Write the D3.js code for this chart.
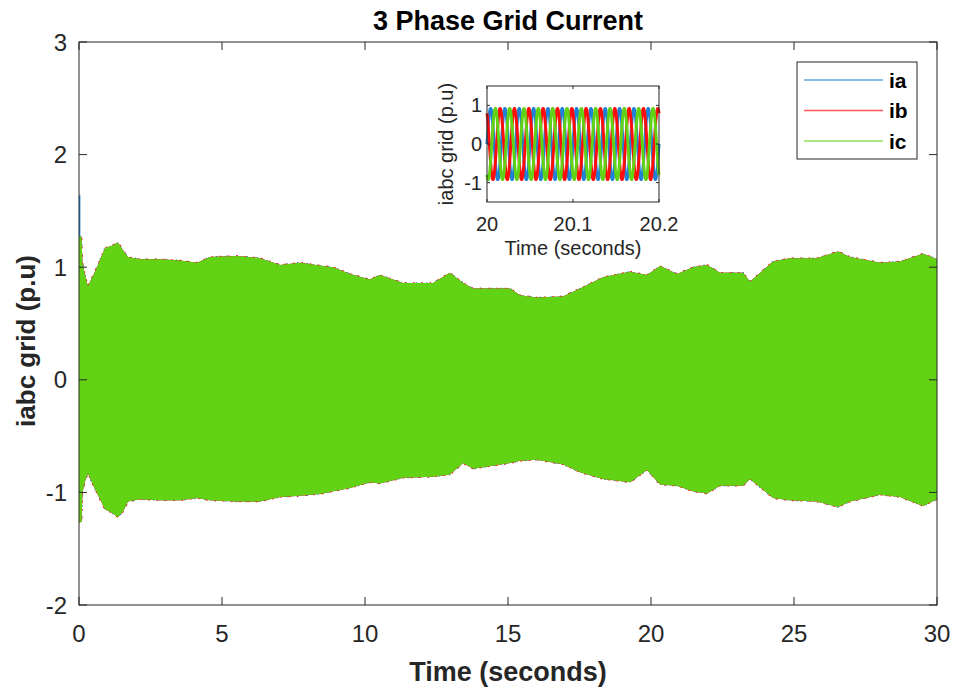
<!DOCTYPE html>
<html>
<head>
<meta charset="utf-8">
<script src="https://cdn.jsdelivr.net/npm/d3@7"></script>
<style>
  body { margin: 0; background: #fff; }
  text { font-family: "Liberation Sans", Arial, sans-serif; fill: #262626; }
</style>
</head>
<body>
<svg id="chart" width="961" height="695"></svg>
<script>
// Envelope of the three phase currents over the run (p.u.)
const timeS    = [0, 0.09, 0.12, 0.21, 0.31, 0.56, 0.91, 1.15, 1.36, 1.54, 1.71, 2.13, 2.83, 3.53, 4.13, 4.58, 5.52, 6.33, 7.03, 7.73, 8.53, 8.88, 9.48, 10.17, 10.52, 11.33, 12.38, 12.97, 13.43, 13.78, 15.07, 15.42, 16.01, 16.92, 17.52, 18.32, 19.27, 19.86, 20.32, 20.91, 21.47, 21.96, 22.41, 23.22, 23.46, 24.27, 24.86, 25.80, 26.54, 26.96, 28.01, 28.71, 29.51, 30];
const envUpper = [1.28, 1.27, 1.04, 0.93, 0.83, 0.96, 1.17, 1.19, 1.22, 1.15, 1.09, 1.07, 1.07, 1.06, 1.04, 1.09, 1.10, 1.08, 1.02, 1.04, 1.01, 1.00, 0.94, 0.89, 0.93, 0.86, 0.86, 0.95, 0.86, 0.81, 0.81, 0.75, 0.73, 0.74, 0.81, 0.91, 0.96, 0.93, 1.01, 0.94, 1.00, 1.02, 0.95, 0.95, 0.87, 1.05, 1.08, 1.08, 1.14, 1.09, 1.04, 1.05, 1.12, 1.07];
const envLower = [-1.27, -1.26, -1.00, -0.90, -0.83, -0.97, -1.15, -1.18, -1.22, -1.17, -1.08, -1.06, -1.07, -1.07, -1.05, -1.07, -1.08, -1.08, -1.04, -1.03, -1.01, -0.99, -0.96, -0.91, -0.92, -0.87, -0.86, -0.84, -0.74, -0.79, -0.74, -0.72, -0.71, -0.75, -0.82, -0.88, -0.91, -0.80, -0.93, -0.94, -0.99, -1.01, -0.94, -0.94, -0.88, -1.05, -1.07, -1.08, -1.13, -1.08, -1.02, -1.04, -1.12, -1.06];

// Start-up overshoot of phase a
const iaStartTime = 0.02;
const iaStartPeak = 1.64;

// Zoomed window: steady sinusoids
const insetAmplitude = 0.92;
const lineFrequencyHz = 60;
const phaseShiftDeg = [0, 120, -120];

const phaseNames  = ["ia", "ib", "ic"];
const phaseColors = ["#1f80d6", "#ff0d0d", "#61d314"];

const xTicks = [0, 5, 10, 15, 20, 25, 30];
const yTicks = [-2, -1, 0, 1, 2, 3];
const insetXTicks = [20, 20.1, 20.2];
const insetYTicks = [-1, 0, 1];

const titleText = "3 Phase Grid Current";
const xLabelText = "Time (seconds)";
const yLabelText = "iabc grid (p.u)";

const svg = d3.select("#chart");
const axisColor = "#262626";

// ---------- main axes ----------
const M = { left: 79, right: 937, top: 42, bottom: 605 };
const x = d3.scaleLinear().domain([0, 30]).range([M.left, M.right]);
const y = d3.scaleLinear().domain([-2, 3]).range([M.bottom, M.top]);

svg.append("defs").append("clipPath").attr("id", "mainClip")
  .append("rect").attr("x", M.left).attr("y", M.top)
  .attr("width", M.right - M.left).attr("height", M.bottom - M.top);

const env = timeS.map((t, i) => ({ t, hi: envUpper[i], lo: envLower[i] }));
const band = d3.area().x(d => x(d.t)).y0(d => y(d.lo)).y1(d => y(d.hi)).curve(d3.curveLinear);

const plot = svg.append("g").attr("clip-path", "url(#mainClip)");
// phases a and b peek out from under phase c as speckles along the edge
const speckle = [["1.3,9", 0], ["1.8,6.5", 4], [null, 0]];
phaseNames.forEach((name, i) => {
  const p = plot.append("path").datum(env).attr("d", band).attr("fill", phaseColors[i]);
  if (speckle[i][0]) {
    p.attr("stroke", phaseColors[i]).attr("stroke-width", 1.6)
     .attr("stroke-dasharray", speckle[i][0]).attr("stroke-dashoffset", speckle[i][1]);
  }
});
plot.append("line")
  .attr("x1", x(iaStartTime)).attr("x2", x(iaStartTime))
  .attr("y1", y(envUpper[0])).attr("y2", y(iaStartPeak))
  .attr("stroke", phaseColors[0]).attr("stroke-width", 1.6);

// box with inward ticks on all four sides
svg.append("rect").attr("x", M.left).attr("y", M.top)
  .attr("width", M.right - M.left).attr("height", M.bottom - M.top)
  .attr("fill", "none").attr("stroke", axisColor).attr("stroke-width", 1);

const tickLen = 8;
const ticks = svg.append("g").attr("stroke", axisColor).attr("stroke-width", 1);
xTicks.forEach(v => {
  ticks.append("line").attr("x1", x(v)).attr("x2", x(v)).attr("y1", M.bottom).attr("y2", M.bottom - tickLen);
  ticks.append("line").attr("x1", x(v)).attr("x2", x(v)).attr("y1", M.top).attr("y2", M.top + tickLen);
});
yTicks.forEach(v => {
  ticks.append("line").attr("x1", M.left).attr("x2", M.left + tickLen).attr("y1", y(v)).attr("y2", y(v));
  ticks.append("line").attr("x1", M.right).attr("x2", M.right - tickLen).attr("y1", y(v)).attr("y2", y(v));
});

svg.append("g").selectAll("text").data(xTicks).join("text")
  .attr("x", d => x(d)).attr("y", 642).attr("text-anchor", "middle")
  .attr("font-size", 24).text(d => d);
svg.append("g").selectAll("text").data(yTicks).join("text")
  .attr("x", 67).attr("y", d => y(d) + 8.5).attr("text-anchor", "end")
  .attr("font-size", 24).text(d => d);

svg.append("text").attr("x", (M.left + M.right) / 2).attr("y", 30)
  .attr("text-anchor", "middle").attr("font-size", 27).attr("font-weight", "bold")
  .style("fill", "#000").text(titleText);
svg.append("text").attr("x", (M.left + M.right) / 2).attr("y", 681)
  .attr("text-anchor", "middle").attr("font-size", 27).attr("font-weight", "bold")
  .text(xLabelText);
svg.append("text").attr("transform", "translate(35,341) rotate(-90)")
  .attr("text-anchor", "middle").attr("font-size", 26).attr("font-weight", "bold")
  .text(yLabelText);

// ---------- legend ----------
const L = { x: 797, y: 62, w: 120, h: 97 };
const legend = svg.append("g");
legend.append("rect").attr("x", L.x).attr("y", L.y).attr("width", L.w).attr("height", L.h)
  .attr("fill", "#fff").attr("stroke", axisColor).attr("stroke-width", 1);
phaseNames.forEach((name, i) => {
  const ly = 80 + i * 30.5;
  legend.append("line").attr("x1", 804).attr("x2", 883).attr("y1", ly).attr("y2", ly)
    .attr("stroke", phaseColors[i]).attr("stroke-width", 1.3).attr("opacity", 0.7);
  legend.append("text").attr("x", 889).attr("y", ly + 7.5)
    .attr("font-size", 21).attr("font-weight", "bold").style("fill", "#000").text(name);
});

// ---------- inset: 20 s to 20.2 s ----------
const I = { left: 487, right: 659, top: 86, bottom: 202 };
const xi = d3.scaleLinear().domain([20, 20.2]).range([I.left, I.right]);
const yi = d3.scaleLinear().domain([-1.5, 1.5]).range([I.bottom, I.top]);

svg.append("rect").attr("x", I.left).attr("y", I.top)
  .attr("width", I.right - I.left).attr("height", I.bottom - I.top).attr("fill", "#fff");

svg.select("defs").append("clipPath").attr("id", "insetClip")
  .append("rect").attr("x", I.left - 2).attr("y", I.top)
  .attr("width", I.right - I.left + 4).attr("height", I.bottom - I.top);

const sampleT = d3.range(0, 2001).map(k => 20 + k * 0.0001);
const inset = svg.append("g").attr("clip-path", "url(#insetClip)");
phaseNames.forEach((name, i) => {
  const shift = phaseShiftDeg[i] * Math.PI / 180;
  const wave = sampleT.map(t => [t, insetAmplitude * Math.sin(2 * Math.PI * lineFrequencyHz * (t - 20) + shift)]);
  inset.append("path").datum(wave)
    .attr("d", d3.line().x(d => xi(d[0])).y(d => yi(d[1])))
    .attr("fill", "none").attr("stroke", phaseColors[i]).attr("stroke-width", 3)
    .attr("stroke-linejoin", "round");
});

svg.append("rect").attr("x", I.left).attr("y", I.top)
  .attr("width", I.right - I.left).attr("height", I.bottom - I.top)
  .attr("fill", "none").attr("stroke", axisColor).attr("stroke-width", 1);

const iTick = 3;
const iticks = svg.append("g").attr("stroke", axisColor).attr("stroke-width", 1);
insetXTicks.forEach(v => {
  iticks.append("line").attr("x1", xi(v)).attr("x2", xi(v)).attr("y1", I.bottom).attr("y2", I.bottom - iTick);
  iticks.append("line").attr("x1", xi(v)).attr("x2", xi(v)).attr("y1", I.top).attr("y2", I.top + iTick);
});
insetYTicks.forEach(v => {
  iticks.append("line").attr("x1", I.left).attr("x2", I.left + iTick).attr("y1", yi(v)).attr("y2", yi(v));
  iticks.append("line").attr("x1", I.right).attr("x2", I.right - iTick).attr("y1", yi(v)).attr("y2", yi(v));
});

svg.append("g").selectAll("text").data(insetXTicks).join("text")
  .attr("x", d => xi(d)).attr("y", 231).attr("text-anchor", "middle")
  .attr("font-size", 20).text(d => d);
svg.append("g").selectAll("text").data(insetYTicks).join("text")
  .attr("x", 482).attr("y", d => yi(d) + 7).attr("text-anchor", "end")
  .attr("font-size", 20).text(d => d);
svg.append("text").attr("x", (I.left + I.right) / 2).attr("y", 255)
  .attr("text-anchor", "middle").attr("font-size", 20).text(xLabelText);
svg.append("text").attr("transform", `translate(453,${(I.top + I.bottom) / 2}) rotate(-90)`)
  .attr("text-anchor", "middle").attr("font-size", 20).text(yLabelText);
</script>
</body>
</html>
